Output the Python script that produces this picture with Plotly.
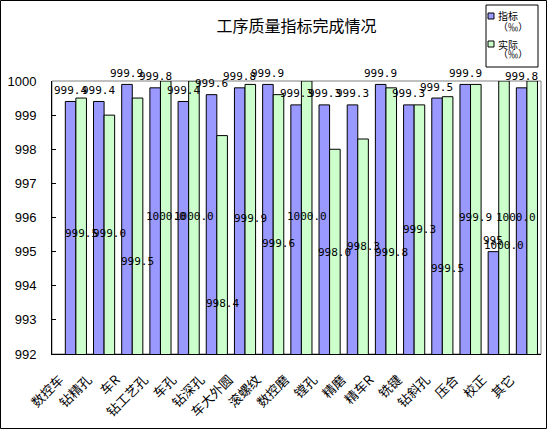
"""
工序质量指标完成情况 - grouped bar chart (指标 vs 实际, ‰)
"""

import plotly.graph_objects as go

# =============================================================================
# Data
# =============================================================================
categories = [
    "数控车", "钻精孔", "车R", "钻工艺孔", "车孔", "钻深孔", "车大外圆", "滚螺纹",
    "数控磨", "镗孔", "精磨", "精车R", "铣键", "钻斜孔", "压合", "校正", "其它",
]
target = [
    999.4, 999.4, 999.9, 999.8, 999.4, 999.6, 999.8, 999.9,
    999.3, 999.3, 999.3, 999.9, 999.3, 999.5, 999.9, 995.0, 999.8,
]
actual = [
    999.5, 999.0, 999.5, 1000.0, 1000.0, 998.4, 999.9, 999.6,
    1000.0, 998.0, 998.3, 999.8, 999.3, 999.54, 999.9, 1000.0, 1000.0,
]
y_ticks = [992, 993, 994, 995, 996, 997, 998, 999, 1000]

# where the (hand-moved) labels of the 实际 series sit, in axis units
actual_label_y = [
    995.53, 995.53, 994.70, 996.03, 996.03, 993.47, 995.98, 995.24,
    996.03, 994.98, 995.15, 994.96, 995.65, 994.52, 996.0, 995.17, 996.0,
]

# =============================================================================
# Layout constants
# =============================================================================
W, H = 547, 429
M_L, M_R, M_T, M_B = 52, 6, 81, 75
PW, PH = W - M_L - M_R, H - M_T - M_B

BLUE = "#9999FF"
GREEN = "#CCFFCC"
CJK = "Noto Sans CJK SC"
MONO = "DejaVu Sans Mono"
LABEL_FONT = dict(family=MONO, size=11, color="black")


def px_x(x):
    return (x - M_L) / PW


def px_y(y):
    return (H - M_B - y) / PH


fig = go.Figure()

fig.add_trace(
    go.Bar(
        x=categories,
        y=target,
        name="指标",
        marker=dict(color=BLUE, line=dict(color="black", width=1)),
        textposition="none",
    )
)
fig.add_trace(
    go.Bar(
        x=categories,
        y=actual,
        name="实际",
        marker=dict(color=GREEN, line=dict(color="black", width=1)),
        textposition="none",
    )
)

# data labels as annotations so they sit above every bar (as in Excel)
bar_w = PW / len(categories) * (1 - 0.25) / 2
annotations = []
for cat, v in zip(categories, target):
    annotations.append(
        dict(x=cat, y=v, xref="x", yref="y", text=f"{v:g}", showarrow=False,
             xshift=-bar_w / 2, yshift=11, font=LABEL_FONT)
    )
for i, (cat, v, ly) in enumerate(zip(categories, actual, actual_label_y)):
    shift = bar_w / 2 if i < len(categories) - 1 else -bar_w
    annotations.append(
        dict(x=cat, y=ly, xref="x", yref="y", text=f"{v:.1f}",
             showarrow=False, xshift=shift, font=LABEL_FONT)
    )

# hand-made legend box (small squares like the original)
legend_items = [("指标", BLUE, 16), ("实际", GREEN, 44)]
shapes = [
    # outer chart border
    dict(type="rect", xref="paper", yref="paper",
         x0=px_x(0.5), x1=px_x(W - 0.5), y0=px_y(H - 0.5), y1=px_y(0.5),
         line=dict(color="black", width=1), layer="below"),
    # plot area frame (grey top / right)
    dict(type="rect", xref="paper", yref="paper", x0=0, x1=1, y0=0, y1=1,
         line=dict(color="#808080", width=1), layer="below"),
    # legend frame
    dict(type="rect", xref="paper", yref="paper",
         x0=px_x(486), x1=px_x(538), y0=px_y(67), y1=px_y(5),
         line=dict(color="black", width=1), fillcolor="white", layer="above"),
]
for name, color, cy in legend_items:
    shapes.append(
        dict(type="rect", xref="paper", yref="paper",
             x0=px_x(488), x1=px_x(494), y0=px_y(cy + 3), y1=px_y(cy - 3),
             line=dict(color="black", width=1), fillcolor=color, layer="above")
    )
    annotations.append(
        dict(x=px_x(496), y=px_y(cy), xref="paper", yref="paper",
             xanchor="left", yanchor="middle", showarrow=False, text=name,
             font=dict(family=CJK, size=10, color="black"))
    )
    annotations.append(
        dict(x=px_x(496), y=px_y(cy + 10), xref="paper", yref="paper",
             xanchor="left", yanchor="middle", showarrow=False, text="（‰）",
             font=dict(family=CJK, size=10, color="black"))
    )

fig.update_layout(
    width=W,
    height=H,
    margin=dict(l=M_L, r=M_R, t=M_T, b=M_B),
    paper_bgcolor="white",
    plot_bgcolor="white",
    barmode="group",
    bargap=0.25,
    bargroupgap=0,
    showlegend=False,
    title=dict(
        text="工序质量指标完成情况",
        x=0.5, xref="paper", y=1 - 26 / H, yanchor="middle",
        font=dict(family=CJK, size=16, color="black"),
    ),
    xaxis=dict(
        tickangle=-45,
        tickfont=dict(family=CJK, size=13, color="black"),
        showline=True, linecolor="black", linewidth=1,
        ticks="", showgrid=False,
        ticklabelstandoff=12,
        ticklabelshift=-16,
    ),
    yaxis=dict(
        range=[992, 1000],
        tickvals=y_ticks,
        tickfont=dict(family="Liberation Sans", size=13, color="black"),
        showline=True, linecolor="black", linewidth=1,
        ticks="inside", ticklen=4, tickcolor="black",
        showgrid=False, zeroline=False,
        ticklabelstandoff=12,
    ),
    shapes=shapes,
    annotations=annotations,
)

fig.write_html(
    "out.html",
    config={"displayModeBar": False},
    post_script="document.body.style.margin='0';",
)
